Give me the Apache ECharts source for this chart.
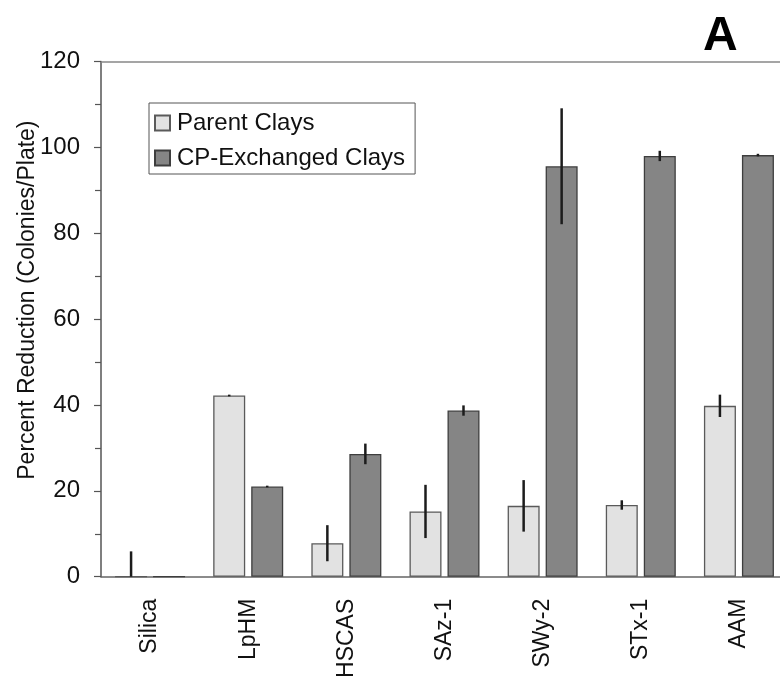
<!DOCTYPE html>
<html>
<head>
<meta charset="utf-8">
<script src="https://cdn.jsdelivr.net/npm/echarts@6/dist/echarts.min.js"></script>
<style>
  html, body { margin: 0; padding: 0; background: #ffffff; }
  #chart { width: 780px; height: 679px; }
</style>
</head>
<body>
<div id="chart"></div>
<script>
// Clay samples on the x axis
const categories = ['Silica', 'LpHM', 'HSCAS', 'SAz-1', 'SWy-2', 'STx-1', 'AAM'];
// Mean percent reduction and its spread, parent clays
const parentValues = [0, 42.2, 7.8, 15.2, 16.5, 16.7, 39.8];
const parentErrors = [5.9, 0.2, 4.2, 6.2, 6.0, 1.1, 2.6];
// Mean percent reduction and its spread, CP-exchanged clays
const exchangedValues = [0, 21.0, 28.6, 38.7, 95.6, 98.0, 98.2];
const exchangedErrors = [0, 0.2, 2.4, 1.2, 13.5, 1.2, 0.3];
// Y axis ticks
const yTicks = [0, 20, 40, 60, 80, 100, 120];

const FONT = '"Liberation Sans", Arial, sans-serif';
const BAR_W = 32;
const BAR_GAP = 6;
const HALF_STEP = (BAR_W + BAR_GAP) / 2;

function errorData(values, errors) {
  return values.map((v, i) => [i, Math.max(0, v - errors[i]), v + errors[i]]);
}

function errorRenderer(shift) {
  return function (params, api) {
    const idx = api.value(0);
    const lo = api.coord([idx, api.value(1)]);
    const hi = api.coord([idx, api.value(2)]);
    const x = lo[0] + shift;
    return {
      type: 'line',
      shape: { x1: x, y1: lo[1], x2: x, y2: hi[1] },
      style: { stroke: '#1c1c1c', lineWidth: 2.5, lineCap: 'butt' },
      z2: 10
    };
  };
}

const chart = echarts.init(document.getElementById('chart'));
chart.setOption({
  animation: false,
  backgroundColor: '#ffffff',
  textStyle: { fontFamily: FONT },
  grid: {
    left: 101, top: 61.5, bottom: 102.3, right: -8,
    containLabel: false, outerBoundsMode: 'none'
  },
  title: {
    text: 'A',
    left: 698, top: 8,
    textStyle: { fontFamily: FONT, fontSize: 48, fontWeight: 'bold', color: '#000' }
  },
  legend: {
    orient: 'vertical',
    left: 149, top: 103,
    padding: [8, 10, 4, 5],
    itemGap: 11,
    itemWidth: 15, itemHeight: 15,
    icon: 'rect',
    borderColor: '#555', borderWidth: 1,
    textStyle: { fontFamily: FONT, fontSize: 24, color: '#111', padding: [0, 0, 0, 2] },
    data: ['Parent Clays', 'CP-Exchanged Clays']
  },
  xAxis: [{
    type: 'category',
    data: categories,
    axisLine: { lineStyle: { color: '#666', width: 1.5 } },
    axisTick: { show: false },
    axisLabel: {
      rotate: 90, margin: 22,
      fontFamily: FONT, fontSize: 23, color: '#111'
    }
  }, {
    type: 'category',
    position: 'top',
    data: categories,
    axisLine: { lineStyle: { color: '#888', width: 1.5 } },
    axisTick: { show: false },
    axisLabel: { show: false }
  }],
  yAxis: {
    type: 'value',
    min: yTicks[0], max: yTicks[yTicks.length - 1], interval: 20,
    name: 'Percent Reduction (Colonies/Plate)',
    nameLocation: 'middle', nameGap: 62, nameRotate: 90,
    nameMoveOverlap: false,
    nameTextStyle: { fontFamily: FONT, fontSize: 23, color: '#111', padding: [0, 0, 0, 38] },
    axisLine: { show: true, lineStyle: { color: '#555', width: 1.5 } },
    axisTick: { show: true, length: 7, lineStyle: { color: '#555', width: 1.2 } },
    minorTick: { show: true, splitNumber: 2, length: 6, lineStyle: { color: '#555', width: 1.2 } },
    splitLine: { show: false },
    axisLabel: { margin: 21, fontFamily: FONT, fontSize: 24, color: '#111' }
  },
  series: [{
    name: 'Parent Clays',
    type: 'bar',
    data: parentValues,
    barWidth: BAR_W,
    barGap: (BAR_GAP / BAR_W * 100) + '%',
    itemStyle: { color: '#e2e2e2', borderColor: '#5a5a5a', borderWidth: 1.3 }
  }, {
    name: 'CP-Exchanged Clays',
    type: 'bar',
    data: exchangedValues,
    barWidth: BAR_W,
    itemStyle: { color: '#858585', borderColor: '#3e3e3e', borderWidth: 1.3 }
  }, {
    type: 'custom',
    renderItem: errorRenderer(-HALF_STEP),
    data: errorData(parentValues, parentErrors),
    encode: { x: 0, y: [1, 2] },
    z: 5, silent: true
  }, {
    type: 'custom',
    renderItem: errorRenderer(HALF_STEP),
    data: errorData(exchangedValues, exchangedErrors),
    encode: { x: 0, y: [1, 2] },
    z: 5, silent: true
  }]
});
</script>
</body>
</html>
